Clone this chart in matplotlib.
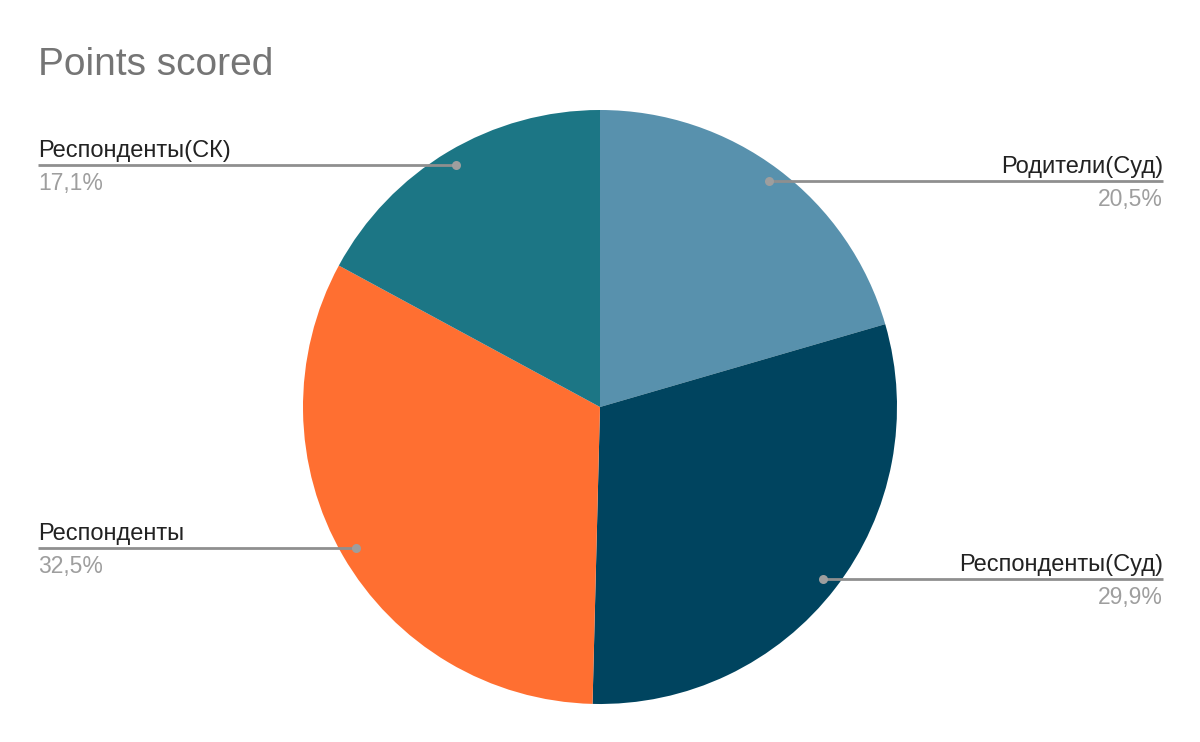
import matplotlib.pyplot as plt
import numpy as np

plt.rcParams['font.family'] = ['Liberation Sans', 'DejaVu Sans']

labels = ['Родители(Суд)', 'Респонденты(Суд)', 'Респонденты', 'Респонденты(СК)']
values = [20.5, 29.9, 32.5, 17.1]
pct_text = ['20,5%', '29,9%', '32,5%', '17,1%']
colors = ['#5891AD', '#00445F', '#FF6F31', '#1C7685']

W, H = 1200, 742
cx, cy, R = 600, H - 407, 297

fig = plt.figure(figsize=(12, 7.42), dpi=100)
ax = fig.add_axes([0, 0, 1, 1])

ax.pie(values, colors=colors, startangle=90, counterclock=False,
       center=(cx, cy), radius=R, frame=True,
       wedgeprops=dict(linewidth=0))
ax.set_xlim(0, W)
ax.set_ylim(0, H)
ax.set_aspect('equal')
ax.axis('off')

fig.text(38 / W, 1 - 75 / H, 'Points scored', fontsize=28, color='#757575',
         va='baseline', ha='left')

total = sum(values)
start = 90.0
for lab, v, pt in zip(labels, values, pct_text):
    mid = start - v / total * 360 / 2
    start -= v / total * 360
    a = np.deg2rad(mid)
    dx, dy = cx + 0.95 * R * np.cos(a), cy + 0.95 * R * np.sin(a)
    if np.cos(a) >= 0:
        x_end, ha = 1163, 'right'
    else:
        x_end, ha = 38, 'left'
    ax.plot([dx, x_end], [dy, dy], color='#8f8f8f', lw=2, solid_capstyle='butt')
    ax.plot(dx, dy, 'o', color='#9e9e9e', ms=6.5, mec='none')
    ax.text(x_end, dy + 8, lab, ha=ha, va='baseline', fontsize=17, color='#222222')
    ax.text(x_end, dy - 7, pt, ha=ha, va='top', fontsize=16.5, color='#9e9e9e')

fig.savefig('out.png', dpi=100, facecolor='white')
